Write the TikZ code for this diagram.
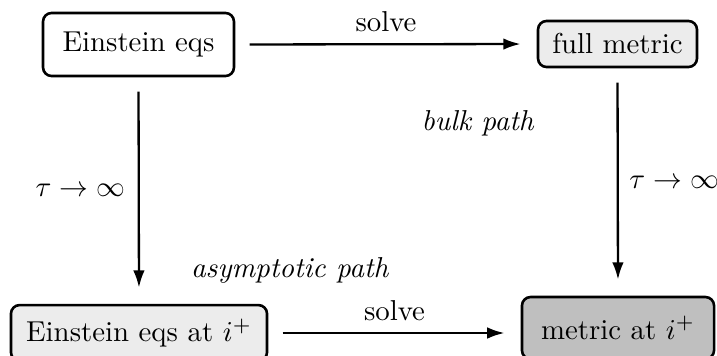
\documentclass[tikz,border=0pt]{standalone}
\usetikzlibrary{arrows.meta}
\begin{document}
\begin{tikzpicture}[x=0.3472pt, y=-0.3472pt,
  box/.style={draw, line width=0.9pt, rounded corners=3pt, inner sep=2pt, align=center},
  arr/.style={line width=0.8pt, -{Latex[length=6pt,width=4pt]}, shorten <=5pt, shorten >=5.6pt},
  lab/.style={inner sep=0pt}]
\useasboundingbox (0,0) rectangle (717,356);
\node[box, minimum width=66.3pt, minimum height=21.9pt] (ee) at (138.5,44.5) {Einstein eqs};
\node[box, fill=gray!15, minimum width=55.2pt, minimum height=16pt] (fm) at (617.5,44) {full metric};
\node[box, fill=gray!15, minimum width=88.9pt, minimum height=19.4pt] (eei) at (139,333) {Einstein eqs at $i^+$};
\node[box, fill=gray!50, minimum width=66.7pt, minimum height=21.5pt] (mi) at (618,328) {metric at $i^+$};
\draw[arr] (ee.east) -- node[above=0.5pt] (s1) {solve} (fm.west);
\draw[arr] (eei.east) -- node[above=0.5pt] (s2) {solve} (eei.east -| mi.west);
\draw[arr] (ee.south) -- node[left=1pt] (t1) {$\tau\to\infty$} (eei.north);
\draw[arr] (fm.south) -- node[right=0.3pt] (t2) {$\tau\to\infty$} (mi.north);
\node (bp) at (478,123) {\textit{bulk path}};
\node (ap) at (290,270) {\textit{asymptotic path}};
\end{tikzpicture}
\end{document}
